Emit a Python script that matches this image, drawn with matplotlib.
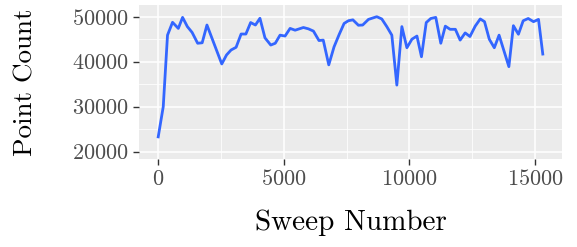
import matplotlib
matplotlib.use("Agg")
import matplotlib.pyplot as plt
from matplotlib.ticker import FixedLocator

# DATA ##########################################

sweep = [0, 200, 370, 570, 800, 970, 1160, 1350, 1570, 1750, 1940, 2530, 2720,
         2900, 3100, 3300, 3490, 3680, 3870, 4050, 4250, 4480, 4660, 4850, 5050,
         5250, 5450, 5780, 5980, 6180, 6400, 6570, 6790, 7000, 7200, 7400, 7570,
         7750, 7970, 8140, 8370, 8700, 8900, 9100, 9300, 9500, 9700, 9900, 10100,
         10300, 10480, 10670, 10850, 11050, 11250, 11430, 11620, 11830, 12020,
         12220, 12410, 12620, 12820, 12990, 13180, 13380, 13570, 13960, 14140,
         14340, 14530, 14730, 14940, 15140, 15310]
points = [23300, 30000, 45900, 48750, 47400, 49850, 47800, 46500, 44100, 44200,
          48150, 39500, 41500, 42600, 43200, 46150, 46150, 48700, 48150, 49650,
          45300, 43700, 44100, 45900, 45700, 47400, 47000, 47600, 47300, 46800,
          44700, 44800, 39300, 43300, 46000, 48500, 49100, 49300, 48100, 48150,
          49400, 50000, 49500, 47800, 45900, 34800, 47800, 43100, 45000, 45700,
          41100, 48700, 49600, 49850, 44100, 47900, 47200, 47200, 44800, 46400,
          45600, 47900, 49500, 48900, 45000, 43100, 45900, 38900, 48000, 46100,
          49100, 49600, 48900, 49400, 41700]

xticks = [0, 5000, 10000, 15000]
yticks = [20000, 30000, 40000, 50000]

# SETUP #########################################

plt.rcParams.update({"font.family": "cmr10", "axes.formatter.use_mathtext": True})

fig = plt.figure(figsize=(5.77, 2.47), dpi=100)
ax = fig.add_axes([139 / 577, 1 - 159 / 247, (562 - 139) / 577, (159 - 5) / 247])
ax.set_facecolor("#EBEBEB")
for s in ax.spines.values():
    s.set_visible(False)

# GRIDS #########################################

ax.set_xticks(xticks)
ax.set_yticks(yticks)
ax.xaxis.set_minor_locator(FixedLocator([2500, 7500, 12500]))
ax.yaxis.set_minor_locator(FixedLocator([25000, 35000, 45000]))
ax.grid(True, which="major", color="white", linewidth=1.1)
ax.grid(True, which="minor", color="white", linewidth=0.55)
ax.set_axisbelow(True)

ax.tick_params(which="major", length=4.3, width=1.0, color="#333333",
               labelcolor="#4D4D4D", labelsize=16, pad=3)
ax.tick_params(which="minor", length=0)

# PLOTTING ######################################

ax.plot(sweep, points, color="#3366FF", linewidth=2.0)

ax.set_xlim(-765, 16075)
ax.set_ylim(18380, 52600)

ax.set_xlabel("Sweep Number", fontsize=21, labelpad=15)
ax.set_ylabel("Point Count", fontsize=19.5, va="center")
ax.yaxis.set_label_coords((26 - 139) / 423, (159 - 82) / 154)

fig.savefig("out.png", dpi=100)
